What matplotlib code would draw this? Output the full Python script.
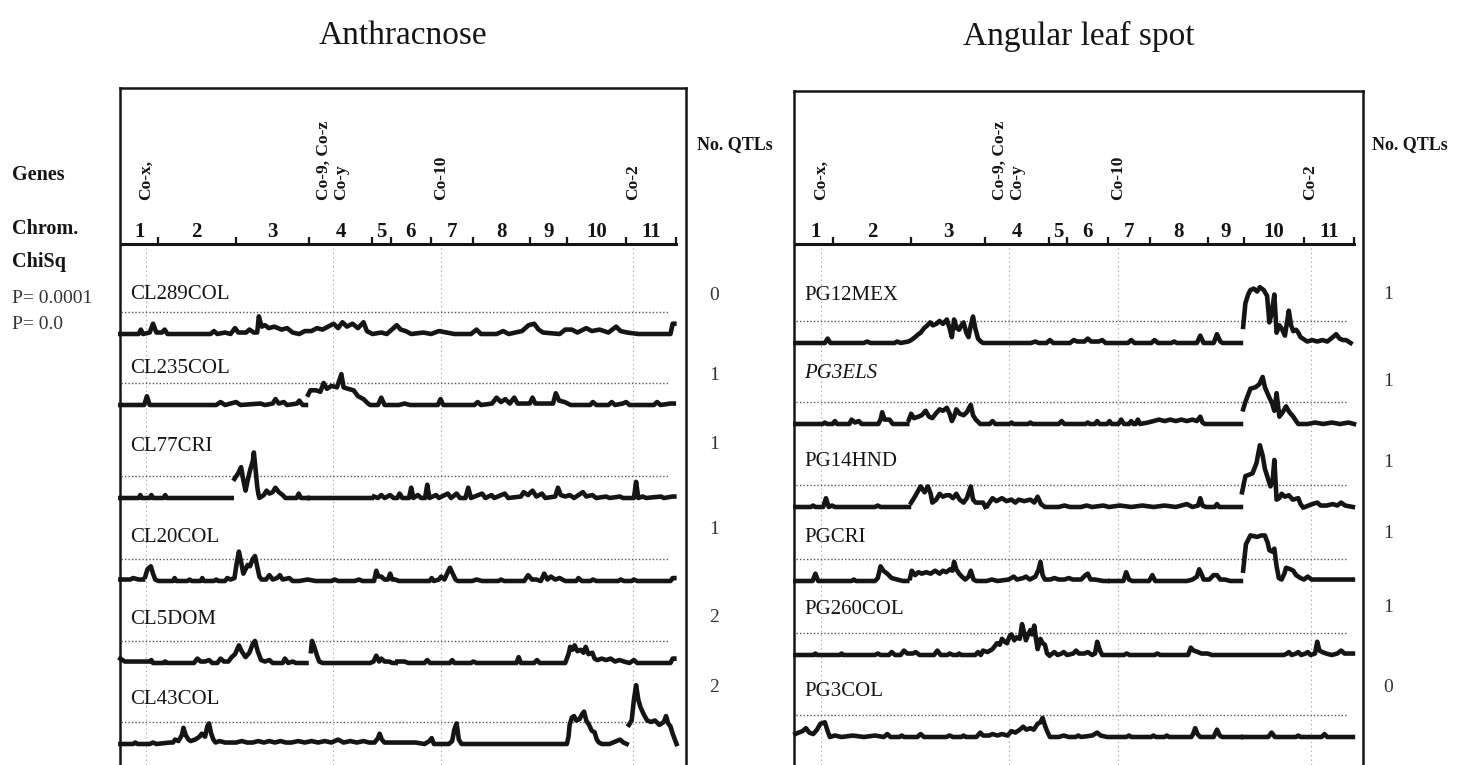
import numpy as np
import matplotlib.pyplot as plt

plt.rcParams['font.family'] = ['Liberation Serif', 'DejaVu Serif']

# map positions (cumulative units along the genome)
chrom_edges = [0, 65, 205, 337, 452, 485, 558, 633, 737, 803, 910, 1000]
chrom_names = ['1', '2', '3', '4', '5', '6', '7', '8', '9', '10', '11']
gene_pos = [43, 380, 576, 922]
gene_names = ['Co-x,', 'Co-9, Co-z\nCo-y', 'Co-10', 'Co-2']
threshold = 15  # dotted line, P = 0.0001

anth_names = ['CL289COL', 'CL235COL', 'CL77CRI', 'CL20COL', 'CL5DOM', 'CL43COL']
anth_qtls = ['0', '1', '1', '1', '2', '2']
als_names = ['PG12MEX', 'PG3ELS', 'PG14HND', 'PGCRI', 'PG260COL', 'PG3COL']
als_qtls = ['1', '1', '1', '1', '1', '0']

# ChiSq profiles, (position, value); None = break between linkage groups
cl289col = [(-3, 0), (30, 0), (34, 3), (38, 0), (50, 1), (56, 7), (62, 1), (72, 1), (77, 3), (82, 0), (160, 0), (166, 2),
            (172, 0), (186, 1), (196, 0), (204, 4), (210, 1), (224, 1), (230, 3), (238, 1), (244, 1), (247, 12), (252, 5),
            (258, 6), (265, 4), (275, 5), (288, 3), (298, 4), (308, 1), (320, 0), (330, 2), (342, 2), (352, 4), (362, 3),
            (372, 5), (382, 7), (390, 4), (398, 8), (406, 5), (416, 7), (426, 4), (436, 8), (442, 2), (452, 0), (468, 1),
            (478, 0), (496, 6), (503, 3), (512, 2), (522, 0), (544, 1), (558, 0), (572, 2), (586, 1), (600, 0), (630, 0),
            (640, 3), (648, 0), (676, 0), (688, 2), (698, 0), (722, 2), (734, 6), (744, 7), (752, 3), (760, 1), (790, 0),
            (800, 3), (812, 3), (822, 1), (838, 4), (848, 2), (862, 3), (878, 1), (892, 5), (900, 2), (912, 1), (932, 0),
            (990, 0), (994, 7), (997, 7)]
cl235col = [(-3, 0), (40, 0), (45, 6), (50, 0), (170, 0), (178, 2), (186, 0), (206, 2), (214, 0), (250, 1), (258, 0),
            (272, 1), (277, 4), (283, 1), (292, 2), (298, 0), (316, 1), (320, 3), (326, 0), (332, 0), None, (336, 7),
            (340, 10), (350, 10), (358, 9), (364, 15), (370, 11), (378, 13), (388, 12), (396, 21), (400, 12), (408, 11),
            (418, 10), (426, 6), (436, 4), (444, 1), (448, 0), (462, 0), (468, 5), (474, 0), (500, 0), (510, 1), (520, 0),
            (570, 0), (575, 4), (580, 0), (636, 0), (642, 2), (648, 0), (668, 1), (676, 5), (684, 2), (692, 4), (700, 1),
            (708, 5), (714, 1), (736, 1), (741, 5), (746, 1), (778, 1), (783, 8), (789, 3), (799, 2), (810, 0), (845, 0),
            (850, 2), (856, 0), (878, 0), (884, 2), (890, 0), (904, 1), (910, 2), (916, 0), (960, 0), (966, 2), (972, 0),
            (990, 1), (996, 1)]
cl77cri = [(-3, 0), (30, 0), (33, 2), (36, 0), (50, 0), (53, 2), (56, 0), (75, 0), (78, 2), (81, 0), (198, 0), None,
           (203, 13), (210, 17), (215, 21), (219, 12), (223, 5), (228, 14), (232, 20), (236, 25), (238, 31), (241, 20),
           (244, 8), (246, 3), (248, 0), (256, 2), (261, 5), (266, 3), (272, 4), (277, 7), (283, 4), (290, 2), (295, 0),
           (315, 0), (319, 3), (323, 0), (335, 0), None, (338, 0), (451, 0), None, (455, 1), (462, 0), (468, 2), (474, 0),
           (484, 2), (490, 0), (497, 0), (501, 3), (506, 0), (518, 0), (522, 7), (526, 0), (534, 2), (540, 0), (547, 0),
           (551, 9), (555, 0), (567, 2), (572, 0), (588, 3), (594, 0), (604, 3), (610, 0), (620, 0), (625, 7), (630, 0),
           (650, 3), (656, 0), (667, 2), (672, 0), (691, 3), (697, 0), (720, 1), (725, 4), (733, 2), (741, 5), (748, 1),
           (758, 3), (764, 0), (782, 1), (787, 7), (792, 2), (800, 1), (808, 2), (816, 0), (832, 4), (838, 1), (849, 2),
           (856, 0), (874, 1), (880, 0), (899, 1), (904, 0), (924, 0), (928, 11), (932, 0), (940, 1), (946, 0), (973, 1),
           (978, 0), (994, 1), (997, 1)]
cl20col = [(-3, 1), (15, 1), (20, 2), (30, 1), (38, 1), None, (42, 3), (46, 8), (52, 10), (56, 5), (60, 1), (66, 0),
           (92, 0), (95, 2), (98, 0), (118, 0), (122, 1), (126, 0), (142, 0), (145, 2), (148, 0), (166, 0), (170, 1),
           (174, 0), (186, 0), (190, 2), (196, 1), (203, 2), (207, 12), (211, 20), (215, 13), (219, 5), (223, 8),
           (227, 11), (231, 10), (236, 15), (240, 17), (244, 10), (248, 3), (252, 1), (260, 1), (266, 4), (272, 1),
           (280, 2), (285, 4), (290, 1), (302, 2), (308, 0), (320, 0), (335, 1), (350, 0), (378, 0), (384, 1), (390, 0),
           (420, 0), (428, 1), (434, 0), (455, 0), (459, 7), (463, 3), (468, 3), (474, 1), (480, 1), (484, 5), (488, 1),
           (493, 1), (500, 0), (555, 0), (559, 2), (563, 0), (572, 1), (576, 3), (582, 1), (588, 6), (592, 9), (597, 5),
           (602, 1), (606, 0), (632, 0), (640, 1), (650, 0), (680, 0), (684, 1), (690, 0), (726, 0), (733, 4), (740, 1),
           (748, 1), (756, 0), (762, 5), (768, 1), (774, 3), (782, 1), (790, 2), (800, 0), (820, 0), (824, 2), (830, 0),
           (846, 0), (850, 1), (856, 0), (896, 0), (900, 1), (906, 0), (920, 0), (924, 1), (930, 0), (990, 0), (994, 2),
           (997, 2)]
cl5dom = [(-3, 3), (5, 1), (20, 1), (50, 1), (53, 2), (56, 0), (75, 0), (78, 1), (81, 0), (130, 0), (136, 3), (142, 1),
          (150, 1), (157, 2), (163, 0), (172, 0), (178, 3), (184, 1), (192, 1), (198, 4), (204, 6), (211, 12), (216, 8),
          (223, 4), (230, 7), (236, 13), (240, 15), (245, 8), (251, 2), (258, 1), (266, 2), (272, 0), (290, 0), (294, 3),
          (300, 0), (308, 1), (314, 0), (333, 0), None, (341, 8), (343, 15), (347, 11), (352, 5), (356, 1), (362, 0),
          (448, 0), (454, 1), (459, 5), (464, 1), (468, 3), (474, 1), (482, 1), (488, 0), (494, 0), None, (497, 1),
          (510, 1), (517, 0), (546, 0), (551, 2), (556, 0), (592, 0), (596, 2), (600, 0), (630, 0), (634, 1), (640, 0),
          (712, 0), (716, 4), (720, 0), (744, 0), (749, 2), (754, 0), (800, 0), (806, 6), (809, 11), (813, 9), (817, 12),
          (822, 8), (828, 9), (833, 7), (837, 11), (842, 6), (849, 7), (853, 3), (858, 2), (866, 3), (874, 2), (882, 3),
          (890, 1), (898, 2), (906, 1), (916, 0), (924, 2), (930, 0), (990, 0), (994, 3), (997, 3)]
cl43col = [(-3, 0), (20, 0), (24, 1), (28, 0), (50, 0), (56, 1), (62, 0), (86, 1), (92, 1), (96, 3), (102, 2), (108, 6),
           (111, 11), (115, 6), (120, 3), (124, 2), (132, 3), (140, 5), (144, 7), (150, 5), (154, 12), (157, 14),
           (161, 7), (165, 3), (169, 1), (176, 2), (186, 1), (196, 1), (206, 1), (216, 2), (226, 1), (236, 1), (246, 2),
           (256, 1), (266, 2), (276, 1), (286, 2), (296, 1), (306, 1), (318, 2), (330, 1), (342, 2), (354, 1), (366, 2),
           (378, 1), (390, 3), (400, 1), (412, 2), (424, 1), (436, 2), (446, 1), (456, 1), (462, 4), (465, 7), (469, 3),
           (474, 1), (486, 1), (496, 1), (506, 1), (518, 1), (530, 1), (546, 0), (555, 2), (559, 4), (563, 0), (590, 0),
           (596, 2), (600, 10), (604, 14), (608, 3), (613, 0), (803, 0), (806, 5), (808, 13), (812, 18), (816, 19),
           (820, 16), (826, 17), (830, 20), (834, 22), (838, 16), (843, 13), (848, 9), (853, 8), (857, 3), (861, 1),
           (866, 0), (880, 0), (899, 3), (905, 1), (911, 0), None, (915, 13), (920, 16), (924, 30), (928, 40), (932, 30),
           (936, 25), (942, 20), (948, 16), (955, 15), (962, 16), (970, 13), (978, 15), (982, 19), (986, 14), (990, 12),
           (994, 7), (998, 3), (1001, 0)]

pg12mex = [(-3, 0), (50, 0), (55, 3), (60, 0), (120, 0), (126, 1), (132, 0), (175, 0), (180, 1), (186, 0), (200, 1),
           (205, 2), (212, 4), (218, 6), (222, 7), (228, 10), (234, 12), (239, 14), (244, 12), (250, 13), (256, 15),
           (262, 13), (269, 16), (274, 10), (278, 4), (282, 16), (287, 10), (291, 9), (295, 12), (299, 14), (304, 7),
           (308, 4), (312, 12), (316, 18), (320, 10), (325, 3), (330, 1), (334, 0), (420, 0), (428, 1), (434, 0),
           (448, 0), (454, 2), (460, 0), (490, 0), (497, 2), (503, 1), (516, 1), (522, 3), (528, 1), (542, 1), (548, 2),
           (554, 0), (594, 0), (600, 2), (606, 0), (636, 0), (642, 2), (648, 0), (672, 0), (677, 1), (682, 0), (718, 0),
           (724, 5), (730, 0), (748, 0), (754, 6), (760, 1), (764, 0), (797, 0), None, (801, 11), (805, 27), (810, 33),
           (814, 36), (820, 37), (826, 35), (831, 38), (838, 36), (844, 32), (848, 14), (852, 20), (857, 33), (861, 7),
           (866, 12), (870, 10), (876, 5), (883, 22), (887, 12), (891, 8), (896, 9), (900, 7), (904, 4), (908, 3),
           (916, 1), (925, 2), (934, 1), (943, 2), (952, 1), (962, 4), (968, 6), (974, 3), (980, 2), (986, 2), (994, 0)]
pg3els = [(-3, 0), (46, 0), (50, 1), (54, 0), (64, 0), (68, 2), (72, 0), (94, 0), (98, 3), (104, 1), (111, 2), (116, 0),
          (146, 0), (150, 3), (153, 8), (157, 3), (166, 3), (172, 0), (198, 0), None, (201, 3), (205, 7), (210, 4),
          (218, 5), (224, 6), (231, 9), (237, 5), (243, 4), (249, 7), (256, 10), (262, 9), (269, 11), (274, 7), (278, 2),
          (282, 5), (286, 10), (292, 7), (299, 6), (305, 8), (309, 11), (312, 13), (316, 6), (321, 3), (329, 0), (346, 0),
          (351, 2), (356, 0), (381, 0), (385, 1), (389, 0), (415, 0), (419, 1), (423, 0), (470, 0), (475, 2), (480, 0),
          (518, 0), (522, 1), (526, 0), (535, 0), (539, 2), (543, 0), (557, 0), (561, 2), (565, 0), (577, 0), (582, 3),
          (587, 0), (596, 0), (600, 2), (604, 0), (608, 0), (612, 3), (616, 0), (630, 1), (640, 2), (650, 3), (660, 2),
          (670, 3), (680, 2), (690, 3), (700, 2), (710, 3), (718, 2), (724, 5), (728, 1), (732, 0), (797, 0), None,
          (801, 10), (805, 15), (814, 24), (823, 25), (830, 27), (836, 32), (840, 25), (848, 18), (853, 14), (857, 9),
          (861, 21), (866, 5), (872, 8), (878, 12), (884, 8), (891, 5), (896, 2), (900, 0), (917, 0), (930, 1), (945, 0),
          (960, 1), (975, 0), (990, 1), (1000, 0)]
pg14hnd = [(-3, 0), (25, 0), (29, 1), (33, 0), (47, 0), (52, 6), (57, 0), (63, 1), (68, 0), (140, 0), (145, 1), (150, 0),
           (201, 0), None, (205, 3), (210, 6), (222, 14), (229, 10), (235, 14), (240, 9), (243, 3), (250, 5), (256, 9),
           (262, 7), (268, 8), (274, 8), (280, 6), (286, 9), (292, 5), (299, 3), (305, 6), (312, 14), (316, 5), (321, 3),
           (334, 3), (338, 0), None, (342, 1), (351, 6), (358, 4), (368, 6), (376, 4), (385, 5), (392, 3), (398, 5),
           (408, 4), (419, 5), (426, 3), (432, 7), (438, 2), (445, 0), (470, 0), (480, 1), (490, 0), (510, 0), (520, 1),
           (530, 0), (550, 1), (560, 0), (580, 1), (600, 0), (620, 1), (640, 0), (660, 1), (680, 0), (700, 2), (710, 0),
           (720, 1), (724, 6), (728, 1), (734, 0), (750, 0), (754, 2), (758, 0), (797, 0), None, (799, 10), (805, 21),
           (812, 22), (818, 23), (825, 30), (831, 42), (836, 35), (840, 26), (845, 20), (850, 14), (854, 18), (857, 32),
           (861, 5), (866, 6), (870, 9), (876, 7), (883, 8), (890, 5), (900, 6), (904, 2), (908, 0), None, (912, 0),
           (925, 2), (934, 3), (940, 1), (951, 1), (962, 2), (970, 1), (977, 3), (984, 1), (998, 0)]
pgcri = [(-3, 0), (28, 0), (33, 5), (38, 0), (98, 0), (102, 1), (106, 0), (140, 0), (145, 2), (150, 10), (155, 7),
         (162, 5), (170, 2), (180, 1), (190, 0), (198, 0), None, (203, 2), (206, 7), (212, 4), (218, 6), (224, 5),
         (232, 6), (240, 5), (248, 7), (256, 5), (262, 7), (268, 6), (275, 8), (279, 7), (282, 13), (286, 8), (291, 5),
         (296, 3), (302, 1), (308, 3), (312, 7), (317, 1), (322, 0), (340, 0), (350, 1), (360, 0), (380, 1), (389, 3),
         (395, 1), (406, 2), (411, 3), (418, 1), (428, 3), (434, 8), (437, 13), (441, 4), (445, 1), (455, 1), (462, 2),
         (470, 1), (480, 1), (488, 2), (495, 1), (510, 1), (518, 4), (522, 5), (527, 1), (535, 1), (550, 0), (557, 0),
         None, (563, 0), (586, 0), (591, 6), (596, 1), (602, 0), (632, 0), (638, 4), (643, 0), (700, 0), (710, 1),
         (718, 3), (722, 8), (726, 5), (730, 1), (740, 1), (748, 4), (754, 4), (760, 1), (768, 1), (778, 0), (797, 0),
         None, (801, 7), (806, 25), (810, 28), (814, 31), (826, 30), (834, 31), (840, 31), (845, 26), (848, 21),
         (853, 20), (857, 22), (861, 10), (865, 2), (870, 1), (875, 5), (878, 9), (886, 8), (891, 7), (896, 4), (904, 2),
         (910, 1), (917, 3), (924, 1), (938, 1), (950, 1), (977, 1), (998, 1)]
pg260col = [(-3, 0), (30, 0), (33, 1), (36, 0), (77, 0), (80, 1), (83, 0), (140, 0), (145, 1), (150, 0), (165, 0),
            (170, 2), (176, 0), (186, 0), (192, 3), (198, 1), (208, 1), (213, 2), (220, 0), (246, 0), (252, 3), (258, 0),
            (270, 0), (274, 1), (280, 0), (288, 0), (291, 1), (295, 0), (320, 0), (325, 2), (330, 0), (334, 3), (342, 2),
            (351, 4), (359, 8), (364, 7), (368, 11), (373, 9), (377, 8), (382, 13), (385, 14), (390, 10), (394, 12),
            (400, 11), (404, 21), (408, 15), (411, 10), (415, 14), (419, 17), (422, 14), (426, 20), (429, 11), (432, 4),
            (435, 8), (437, 11), (441, 8), (445, 7), (449, 1), (452, 0), None, (455, 0), (462, 2), (468, 0), (475, 1),
            (479, 2), (485, 0), (496, 1), (501, 3), (506, 1), (516, 1), (522, 2), (530, 0), (535, 1), (539, 9), (544, 3),
            (548, 0), (587, 0), (592, 1), (597, 0), (642, 0), (647, 1), (652, 0), (702, 0), (707, 5), (712, 3), (720, 2),
            (726, 1), (737, 1), (745, 0), (874, 0), (880, 1), (883, 2), (888, 0), (896, 1), (900, 2), (905, 0), (913, 1),
            (917, 2), (922, 0), (930, 1), (934, 9), (938, 3), (943, 2), (950, 1), (960, 0), (970, 1), (977, 3), (983, 1),
            (998, 1)]
pg3col = [(-3, 2), (3, 3), (10, 4), (16, 6), (22, 3), (29, 2), (36, 5), (42, 9), (50, 10), (55, 4), (59, 0), (68, 1),
          (80, 0), (100, 1), (120, 0), (140, 1), (156, 0), (162, 2), (168, 0), (184, 0), (188, 1), (192, 0), (216, 0),
          (222, 2), (228, 0), (268, 0), (274, 1), (280, 0), (295, 0), (299, 1), (303, 0), (322, 0), (329, 3), (334, 1),
          (345, 1), (351, 2), (360, 1), (368, 2), (378, 1), (385, 4), (392, 3), (400, 5), (406, 7), (412, 5), (419, 6),
          (425, 5), (432, 9), (437, 10), (441, 13), (445, 8), (449, 4), (454, 0), (470, 0), (479, 1), (488, 0), (500, 0),
          (505, 1), (510, 0), (530, 1), (539, 3), (545, 1), (557, 0), (591, 0), (596, 1), (600, 0), (636, 0), (640, 1),
          (644, 0), (660, 0), (664, 1), (668, 0), (708, 0), (711, 2), (715, 6), (719, 2), (724, 0), (748, 0), (754, 5),
          (759, 1), (763, 0), (797, 0), None, (801, 0), (846, 0), (852, 3), (858, 0), (896, 0), (900, 1), (904, 0),
          (942, 0), (947, 2), (952, 0), (998, 0)]

anth_traces = [cl289col, cl235col, cl77cri, cl20col, cl5dom, cl43col]
als_traces = [pg12mex, pg3els, pg14hnd, pgcri, pg260col, pg3col]

W, H = 1469, 765
fig = plt.figure(figsize=(W / 100, H / 100), dpi=100)


def px_axes(x0, y0, x1, y1):
    return fig.add_axes([x0 / W, 1 - y1 / H, (x1 - x0) / W, (y1 - y0) / H])


def ftext(x, y, s, **kw):
    fig.text(x / W, 1 - y / H, s, **kw)


PX_PER_UNIT = 1.47
AXIS_Y = 244
ink = '#151515'

panels = [
    dict(title='Anthracnose', names=anth_names, traces=anth_traces, qtls=anth_qtls,
         box=(120, 686, 88), u0=122, upx=0.554,
         base=[334, 405, 498, 581, 663, 744], lab=[295, 368, 446, 537, 620, 700],
         qx=714, qy=[296, 376, 444, 529, 617, 688], nx=735),
    dict(title='Angular leaf spot', names=als_names, traces=als_traces, qtls=als_qtls,
         box=(794, 1363, 91), u0=797, upx=0.557,
         base=[343, 424, 507, 581, 655, 737], lab=[296, 373, 461, 537, 610, 692],
         qx=1388, qy=[295, 381, 463, 534, 607, 688], nx=1410),
]

for p in panels:
    bl, br, bt = p['box']
    xlim = ((bl - p['u0']) / p['upx'], (br - p['u0']) / p['upx'])

    # frame: x in map units, y in image pixels
    fr = px_axes(bl, bt, br, H + 2)
    fr.set_xlim(xlim)
    fr.set_ylim(H + 2, bt)
    fr.set_xticks([])
    fr.set_yticks([])
    fr.patch.set_alpha(0)
    fr.spines['bottom'].set_visible(False)
    for s in ['top', 'left', 'right']:
        fr.spines[s].set_linewidth(1.8)
        fr.spines[s].set_color(ink)

    # chromosome axis
    fr.plot([chrom_edges[0] - 3, chrom_edges[-1]], [AXIS_Y, AXIS_Y], color=ink, lw=2.2)
    fr.vlines(chrom_edges[1:], AXIS_Y - 7, AXIS_Y, color=ink, lw=1.6)
    mids = [(a + b) / 2 for a, b in zip(chrom_edges[:-1], chrom_edges[1:])]
    for m, c in zip(mids, chrom_names):
        fr.text(m, AXIS_Y - 12, c, ha='center', va='center', fontsize=15, fontweight='bold', color=ink)

    # gene labels and dotted guides
    for g, name in zip(gene_pos, gene_names):
        fr.text(g, AXIS_Y - 44, name, rotation=90, ha='center', va='bottom', fontsize=12.5,
                fontweight='bold', color=ink, linespacing=1.15, multialignment='left')
        fr.vlines(g, AXIS_Y + 4, H + 2, color='#9a9a9a', lw=0.8, linestyles=(0, (1, 3)))

    ftext((bl + br) / 2, 36, p['title'], ha='center', va='center', fontsize=24, color=ink)
    ftext(p['nx'], 145, 'No. QTLs', ha='center', va='center', fontsize=13, fontweight='bold', color=ink)

    # one strip per isolate
    for i, (name, tr) in enumerate(zip(p['names'], p['traces'])):
        b = p['base'][i]
        ax = px_axes(bl, b - 75, br, b + 6)
        ax.set_xlim(xlim)
        ax.set_ylim(-6 / PX_PER_UNIT, 75 / PX_PER_UNIT)
        ax.axis('off')
        xs = np.array([np.nan if pt is None else pt[0] for pt in tr], dtype=float)
        ys = np.array([np.nan if pt is None else pt[1] for pt in tr], dtype=float)
        ax.hlines(threshold, -2, 985, color='#555555', lw=1.0, linestyles=(0, (1, 1.5)))
        ax.plot(xs, ys, color=ink, lw=3.3, solid_joinstyle='round', clip_on=False)

        style = 'italic' if name == 'PG3ELS' else 'normal'
        ftext(bl + 10, p['lab'][i], name, ha='left', va='center', fontsize=15, style=style, color=ink)
        ftext(p['qx'], p['qy'][i], p['qtls'][i], ha='center', va='center', fontsize=14, color='#333333')

# row captions on the far left
ftext(12, 175, 'Genes', ha='left', va='center', fontsize=14.5, fontweight='bold', color=ink)
ftext(12, 229, 'Chrom.', ha='left', va='center', fontsize=14.5, fontweight='bold', color=ink)
ftext(12, 262, 'ChiSq', ha='left', va='center', fontsize=14.5, fontweight='bold', color=ink)
ftext(12, 299, 'P= 0.0001', ha='left', va='center', fontsize=14, color='#333333')
ftext(12, 324, 'P= 0.0', ha='left', va='center', fontsize=14, color='#333333')

fig.savefig('out.png', dpi=100, facecolor='white')
